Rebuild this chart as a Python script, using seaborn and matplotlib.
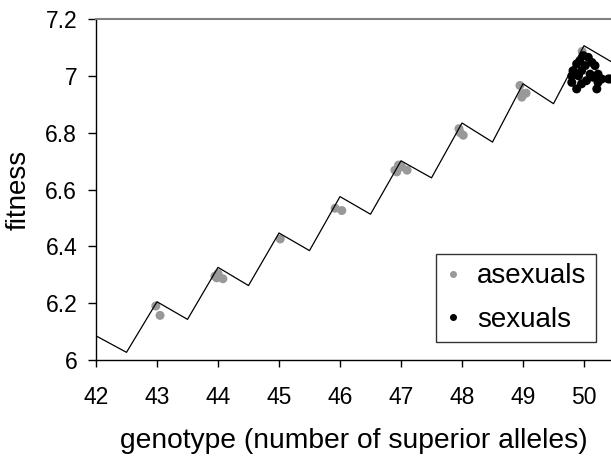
import matplotlib
matplotlib.use("Agg")
import matplotlib.pyplot as plt
import seaborn as sns
import pandas as pd
from matplotlib.lines import Line2D

# zigzag fitness landscape
line_x = [42, 42.5, 43, 43.5, 44, 44.5, 45, 45.5, 46, 46.5, 47, 47.5, 48, 48.5, 49, 49.5, 50, 50.5]
line_y = [6.085, 6.027, 6.205, 6.143, 6.326, 6.262, 6.447, 6.385, 6.575, 6.513,
          6.701, 6.641, 6.834, 6.767, 6.972, 6.902, 7.106, 7.043]

# asexual population
asex_x = [42.98, 43.05, 43.95, 44.0, 43.98, 44.08, 45.02, 45.92, 46.03,
          46.90, 46.96, 47.01, 47.10, 46.93, 47.95, 47.97, 48.02,
          48.95, 49.0, 48.98, 49.05, 49.97]
asex_y = [6.19, 6.157, 6.295, 6.304, 6.289, 6.286, 6.426, 6.534, 6.526,
          6.668, 6.686, 6.680, 6.668, 6.662, 6.814, 6.80, 6.791,
          6.966, 6.937, 6.925, 6.939, 7.086]

# sexual population
sex_x = [49.99, 50.07, 49.93, 50.13, 49.88, 50.02, 50.18, 49.82, 49.96, 49.80,
         49.91, 50.10, 50.23, 50.15, 50.29, 50.40, 50.04, 49.80, 49.96, 50.23,
         49.88, 50.21, 50.43]
sex_y = [7.071, 7.065, 7.053, 7.047, 7.042, 7.036, 7.036, 7.018, 7.018, 7.0,
         7.0, 7.006, 7.006, 6.995, 6.989, 6.989, 6.983, 6.977, 6.972, 6.977,
         6.954, 6.954, 6.989]

y_ticks = [6, 6.2, 6.4, 6.6, 6.8, 7, 7.2]
y_labels = ["6", "6.2", "6.4", "6.6", "6.8", "7", "7.2"]
x_ticks = [42, 43, 44, 45, 46, 47, 48, 49, 50]

sns.set_style("ticks")
plt.rcParams['font.family'] = ['Liberation Sans', 'DejaVu Sans']
plt.rcParams['text.color'] = 'black'
plt.rcParams['axes.labelcolor'] = 'black'
plt.rcParams['xtick.color'] = 'black'
plt.rcParams['ytick.color'] = 'black'

fig = plt.figure(figsize=(6.11, 4.59), dpi=100)
ax = fig.add_axes([96/611, 99/459, 515/611, 341/459])

line_df = pd.DataFrame({"genotype": line_x, "fitness": line_y})
sns.lineplot(data=line_df, x="genotype", y="fitness", color="black", lw=0.9,
             ax=ax, sort=False, estimator=None)

pts = pd.DataFrame({
    "genotype": asex_x + sex_x,
    "fitness": asex_y + sex_y,
    "group": ["asexuals"] * len(asex_x) + ["sexuals"] * len(sex_x),
})
sns.scatterplot(data=pts, x="genotype", y="fitness", hue="group",
                palette={"asexuals": "#999999", "sexuals": "black"},
                s=42, edgecolor="none", linewidth=0, ax=ax, legend=False)

ax.set_xlim(42, 42 + 515/61)
ax.set_ylim(6, 7.2)
ax.set_xticks(x_ticks)
ax.set_xticklabels([str(v) for v in x_ticks])
ax.set_yticks(y_ticks)
ax.set_yticklabels(y_labels)
ax.tick_params(axis="both", direction="out", width=1, labelsize=16.5,
               colors="black")
ax.tick_params(axis="x", length=5, pad=13.5)
ax.tick_params(axis="y", length=6, pad=7.5)
ax.set_xlabel("genotype (number of superior alleles)", fontsize=20.3,
              labelpad=14)
ax.set_ylabel("fitness", fontsize=20, labelpad=10)

ax.spines["right"].set_visible(False)
ax.spines["top"].set_color("#808080")
ax.spines["top"].set_linewidth(1.5)
for s in ("left", "bottom"):
    ax.spines[s].set_color("black")
    ax.spines[s].set_linewidth(1.0)

handles = [Line2D([], [], marker="o", ls="none", color="#999999", markersize=4),
           Line2D([], [], marker="o", ls="none", color="black", markersize=4)]
leg = ax.legend(handles, ["asexuals", "sexuals"], loc="upper left",
                bbox_to_anchor=(0.66, 0.31), fontsize=20,
                frameon=True, fancybox=False, borderaxespad=0,
                handlelength=0.6, handletextpad=0.55, borderpad=0.33,
                labelspacing=0.62)
leg.get_frame().set_edgecolor("black")
leg.get_frame().set_linewidth(1.0)

fig.savefig("out.png", dpi=100)
